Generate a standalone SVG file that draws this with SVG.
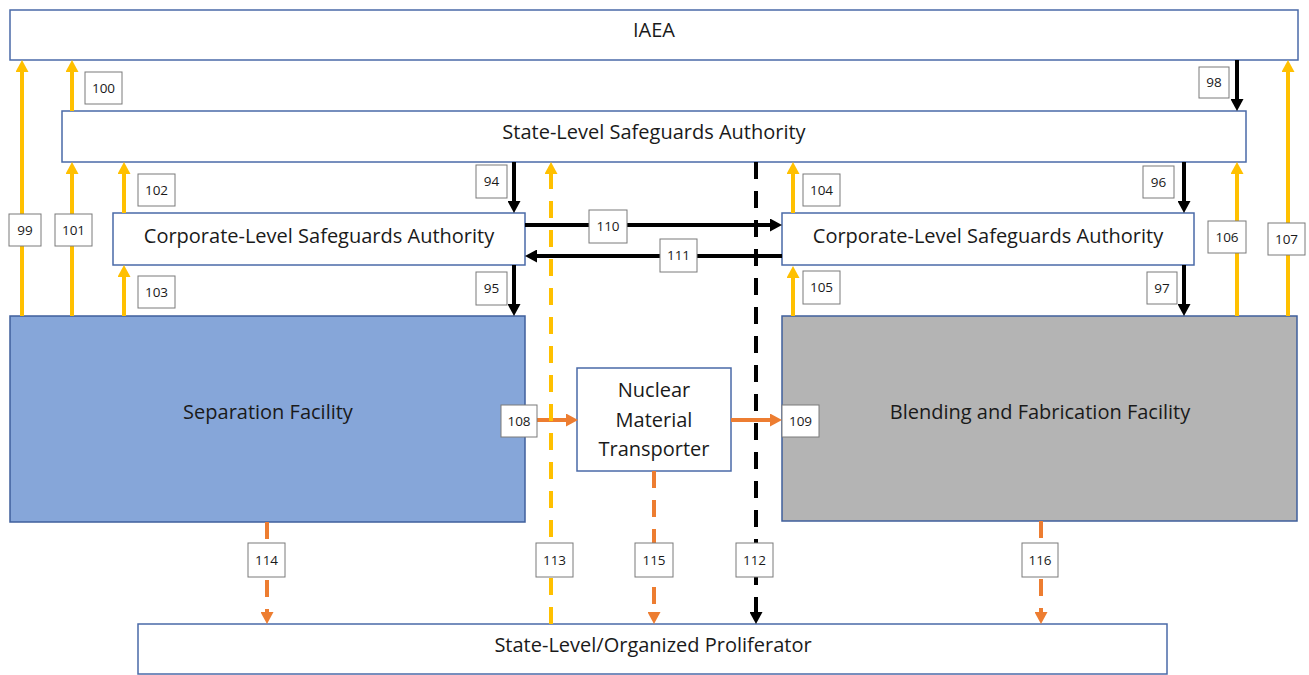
<svg xmlns="http://www.w3.org/2000/svg" width="1309" height="675" viewBox="0 0 1309 675">
  <style>
    .box { fill: #ffffff; stroke: #4a6aa8; stroke-width: 1.5; }
    .sep { fill: #86a6d9; stroke: #3f5f9c; stroke-width: 1.5; }
    .blend { fill: #b4b4b4; stroke: #3f5f9c; stroke-width: 1.5; }
    .t { font-family: "Open Sans", "Liberation Sans", sans-serif; font-size: 20px; fill: #1a1a1a; text-anchor: middle; }
    .lbl rect { fill: #ffffff; stroke: #7a7a7a; stroke-width: 1; }
    .lbl text { font-family: "Open Sans", "Liberation Sans", sans-serif; font-size: 13.5px; fill: #1a1a1a; text-anchor: middle; }
    .y { stroke: #ffc000; stroke-width: 4; fill: none; }
    .k { stroke: #000000; stroke-width: 4; fill: none; }
    .o { stroke: #ed7d31; stroke-width: 4; fill: none; }
    .dash { stroke-dasharray: 17 12; }
  </style>
  <defs>
    <marker id="ahY" markerUnits="userSpaceOnUse" markerWidth="13" markerHeight="13" refX="0" refY="6.5" orient="auto">
      <path d="M0,0 L12,6.5 L0,13 z" fill="#ffc000"/>
    </marker>
    <marker id="ahK" markerUnits="userSpaceOnUse" markerWidth="13" markerHeight="13" refX="0" refY="6.5" orient="auto">
      <path d="M0,0 L12,6.5 L0,13 z" fill="#000000"/>
    </marker>
    <marker id="ahO" markerUnits="userSpaceOnUse" markerWidth="13" markerHeight="13" refX="0" refY="6.5" orient="auto">
      <path d="M0,0 L12,6.5 L0,13 z" fill="#ed7d31"/>
    </marker>
  </defs>

  <rect width="1309" height="675" fill="#ffffff"/>

  <!-- nodes -->
  <g id="iaea">
    <rect class="box" x="10" y="10" width="1288" height="50"/>
    <text class="t" x="654" y="37">IAEA</text>
  </g>
  <g id="state-authority">
    <rect class="box" x="62" y="111" width="1184" height="51"/>
    <text class="t" x="654" y="139">State-Level Safeguards Authority</text>
  </g>
  <g id="corp-authority-left">
    <rect class="box" x="113" y="213" width="412" height="52"/>
    <text class="t" x="319" y="243">Corporate-Level Safeguards Authority</text>
  </g>
  <g id="corp-authority-right">
    <rect class="box" x="782" y="213" width="412" height="52"/>
    <text class="t" x="988" y="243">Corporate-Level Safeguards Authority</text>
  </g>
  <g id="separation-facility">
    <rect class="sep" x="10" y="316" width="515" height="206"/>
    <text class="t" x="268" y="419">Separation Facility</text>
  </g>
  <g id="blending-facility">
    <rect class="blend" x="782" y="316" width="515" height="205"/>
    <text class="t" x="1040" y="419">Blending and Fabrication Facility</text>
  </g>
  <g id="transporter">
    <rect class="box" x="577" y="368" width="154" height="103"/>
    <text class="t" x="654" y="397">Nuclear</text>
    <text class="t" x="654" y="427">Material</text>
    <text class="t" x="654" y="456">Transporter</text>
  </g>
  <g id="proliferator">
    <rect class="box" x="138" y="624" width="1029" height="50"/>
    <text class="t" x="653" y="652">State-Level/Organized Proliferator</text>
  </g>

  <!-- connectors -->
  <g id="connectors">
    <!-- reporting upward (yellow) -->
    <line class="y" x1="22" y1="316" x2="22" y2="72" marker-end="url(#ahY)"/>
    <line class="y" x1="72" y1="111" x2="72" y2="72" marker-end="url(#ahY)"/>
    <line class="y" x1="72" y1="316" x2="72" y2="174" marker-end="url(#ahY)"/>
    <line class="y" x1="124" y1="213" x2="124" y2="174" marker-end="url(#ahY)"/>
    <line class="y" x1="124" y1="316" x2="124" y2="277" marker-end="url(#ahY)"/>
    <line class="y" x1="793" y1="213" x2="793" y2="174" marker-end="url(#ahY)"/>
    <line class="y" x1="793" y1="316" x2="793" y2="278" marker-end="url(#ahY)"/>
    <line class="y" x1="1237" y1="316" x2="1237" y2="174" marker-end="url(#ahY)"/>
    <line class="y" x1="1288" y1="316" x2="1288" y2="72" marker-end="url(#ahY)"/>

    <!-- oversight downward (black) -->
    <line class="k" x1="1237" y1="60" x2="1237" y2="99" marker-end="url(#ahK)"/>
    <line class="k" x1="514" y1="162" x2="514" y2="201" marker-end="url(#ahK)"/>
    <line class="k" x1="514" y1="265" x2="514" y2="304" marker-end="url(#ahK)"/>
    <line class="k" x1="1184" y1="162" x2="1184" y2="201" marker-end="url(#ahK)"/>
    <line class="k" x1="1184" y1="265" x2="1184" y2="304" marker-end="url(#ahK)"/>

    <!-- corporate exchange -->
    <line class="k" x1="525" y1="225" x2="770" y2="225" marker-end="url(#ahK)"/>
    <line class="k" x1="782" y1="256" x2="537" y2="256" marker-end="url(#ahK)"/>

    <!-- material transfer (orange) -->
    <line class="o" x1="537" y1="420" x2="566" y2="420" marker-end="url(#ahO)"/>
    <line class="o" x1="731" y1="420" x2="770" y2="420" marker-end="url(#ahO)"/>

    <!-- dashed paths to proliferator -->
    <line class="y dash" x1="551" y1="624" x2="551" y2="174" marker-end="url(#ahY)"/>
    <line class="k dash" x1="756" y1="162" x2="756" y2="612" marker-end="url(#ahK)"/>
    <line class="o dash" x1="267" y1="522" x2="267" y2="612" marker-end="url(#ahO)"/>
    <line class="o dash" x1="654" y1="471" x2="654" y2="612" marker-end="url(#ahO)"/>
    <line class="o dash" x1="1041" y1="521" x2="1041" y2="612" marker-end="url(#ahO)"/>
  </g>

  <!-- connector labels -->
  <g id="labels" class="lbl">
    <g><rect x="9" y="214" width="32" height="32"/><text x="25" y="235">99</text></g>
    <g><rect x="85" y="72" width="37" height="32"/><text x="103.5" y="93">100</text></g>
    <g><rect x="55" y="214" width="37" height="32"/><text x="73.5" y="235">101</text></g>
    <g><rect x="138" y="174" width="37" height="32"/><text x="156.5" y="195">102</text></g>
    <g><rect x="138" y="276" width="37" height="32"/><text x="156.5" y="297">103</text></g>
    <g><rect x="476" y="165" width="31" height="33"/><text x="491.5" y="186">94</text></g>
    <g><rect x="476" y="272" width="31" height="33"/><text x="491.5" y="293">95</text></g>
    <g><rect x="1199" y="67" width="30" height="31"/><text x="1214" y="87">98</text></g>
    <g><rect x="1143" y="166" width="31" height="32"/><text x="1158.5" y="187">96</text></g>
    <g><rect x="1147" y="272" width="30" height="32"/><text x="1162" y="293">97</text></g>
    <g><rect x="803" y="174" width="37" height="32"/><text x="821.5" y="195">104</text></g>
    <g><rect x="803" y="271" width="37" height="33"/><text x="821.5" y="292">105</text></g>
    <g><rect x="1208" y="221" width="38" height="32"/><text x="1227" y="242">106</text></g>
    <g><rect x="1268" y="223" width="37" height="32"/><text x="1286.5" y="244">107</text></g>
    <g><rect x="589" y="210" width="38" height="33"/><text x="608" y="231">110</text></g>
    <g><rect x="660" y="239" width="37" height="33"/><text x="678.5" y="260">111</text></g>
    <g><rect x="501" y="405" width="36" height="32"/><text x="519" y="426">108</text></g>
    <g><rect x="782" y="405" width="37" height="32"/><text x="800.5" y="426">109</text></g>
    <g><rect x="248" y="543" width="37" height="34"/><text x="266.5" y="565">114</text></g>
    <g><rect x="536" y="543" width="37" height="34"/><text x="554.5" y="565">113</text></g>
    <g><rect x="635" y="543" width="38" height="34"/><text x="654" y="565">115</text></g>
    <g><rect x="736" y="543" width="37" height="34"/><text x="754.5" y="565">112</text></g>
    <g><rect x="1022" y="543" width="36" height="34"/><text x="1040" y="565">116</text></g>
  </g>
</svg>
